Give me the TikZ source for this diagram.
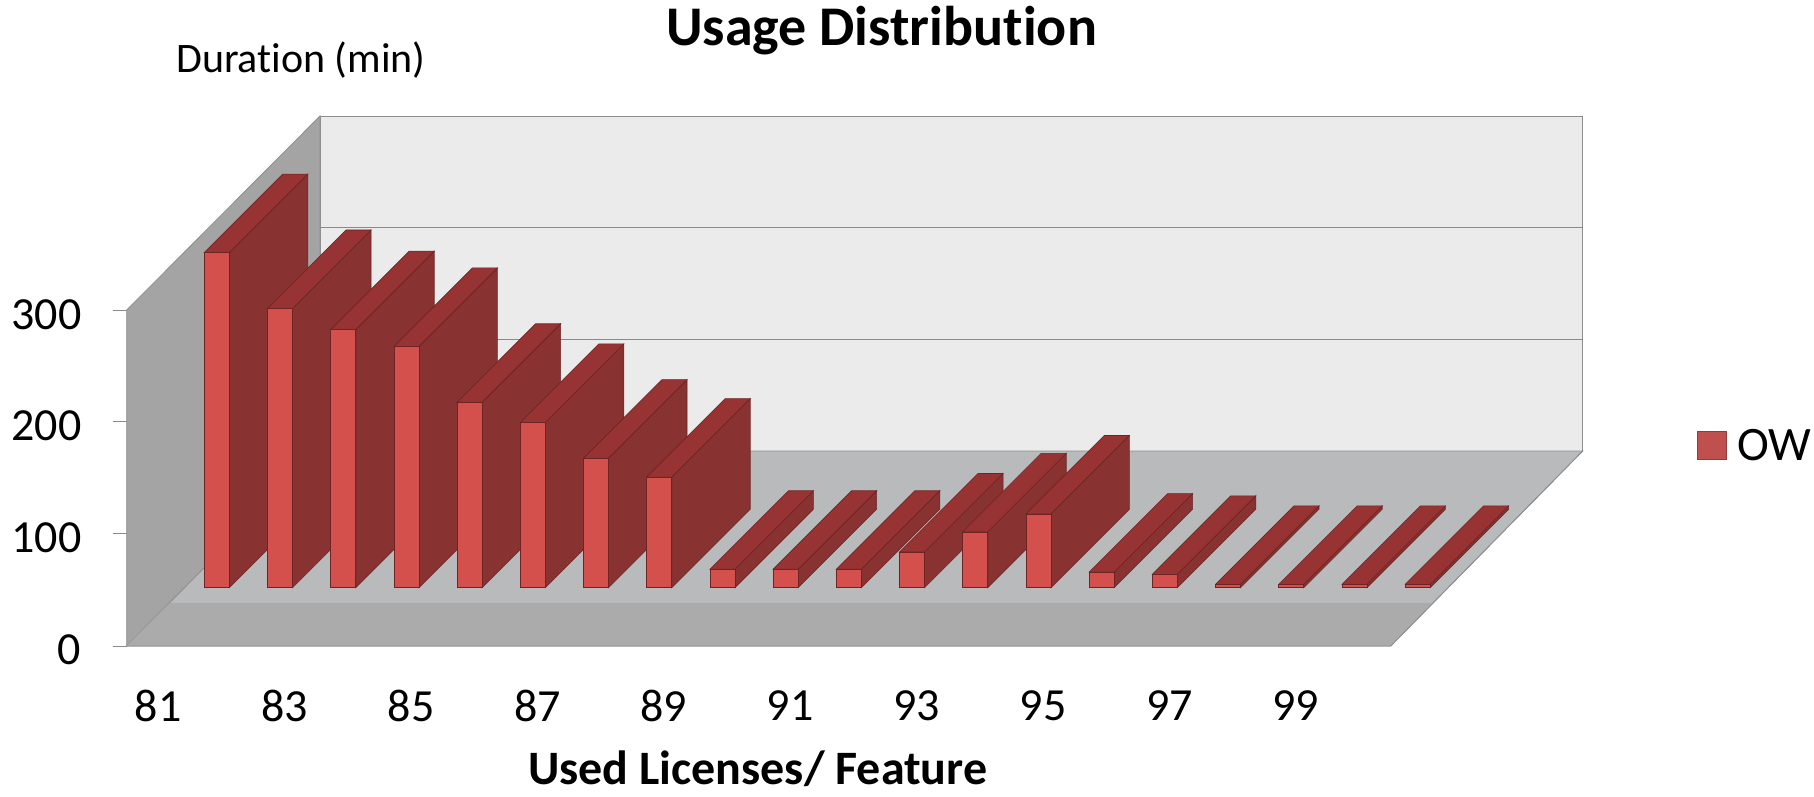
\documentclass[tikz,border=0pt]{standalone}
\usepackage{fontspec}
\setmainfont{Carlito}[Ligatures=NoCommon]
\usepackage{tikz}
\usetikzlibrary{shapes,arrows}

\definecolor{backwall}{HTML}{EBEBEB}
\definecolor{sidewall}{HTML}{A4A4A4}
\definecolor{floorgray}{HTML}{B8BABC}
\definecolor{floorband}{HTML}{ABABAB}
\definecolor{wallline}{HTML}{8E8E8E}
\definecolor{gridline}{HTML}{8A8A8A}
\definecolor{barfront}{HTML}{D4504C}
\definecolor{barside}{HTML}{883232}
\definecolor{bartop}{HTML}{973333}
\definecolor{barline}{HTML}{6E2424}
\definecolor{legendred}{HTML}{C0504D}

\tikzset{
  barface/.style={draw=barline, line width=0.3pt},
  ticklabel/.style={inner sep=0pt, font=\fontsize{23}{28}\selectfont},
}

\begin{document}
\begin{tikzpicture}[x=0.5pt,y=0.5pt,yscale=-1,xscale=1]
\useasboundingbox (0,0) rectangle (1814,797);

%Shape: Back Wall
\draw [draw=wallline, fill=backwall] (320,116) rectangle (1582.7,451);
%Straight Lines: gridlines
\draw [color=gridline] (320,227.3) -- (1582.7,227.3);
\draw [color=gridline] (320,339) -- (1582.7,339);
%Shape: Left Wall
\draw [draw=wallline, fill=sidewall] (126.7,310) -- (320,116) -- (320,451) -- (126.7,646) -- cycle;
%Shape: Floor
\draw [draw=wallline, fill=floorgray] (126.7,646) -- (1390.7,646) -- (1582.7,451) -- (320,451) -- cycle;
\fill [floorband] (126.7,646) -- (1390.7,646) -- (1433.7,603) -- (169.7,603) -- cycle;
\draw [color=wallline] (126.7,646) -- (1390.7,646) -- (1582.7,451);
%Straight Lines: axis ticks
\foreach \ty in {310.7,421.7,533,646}
  \draw [color=gridline] (112.7,\ty) -- (126.7,\ty);

%Bars
\foreach \h [count=\i from 0] in {300,250,231,216,166,148,116,99,16.5,16.5,16.5,32,50,66,14,12,3,3,3,3} {
  \pgfmathsetmacro{\xl}{204.3+63.2*\i}
  \pgfmathsetmacro{\xr}{\xl+25}
  \pgfmathsetmacro{\yt}{587.7-1.117*\h}
  \draw [barface, fill=barside] (\xr,587.7) -- (\xr+78.5,509.2) -- (\xr+78.5,\yt-78.5) -- (\xr,\yt) -- cycle;
  \draw [barface, fill=bartop] (\xl,\yt) -- (\xr,\yt) -- (\xr+78.5,\yt-78.5) -- (\xl+78.5,\yt-78.5) -- cycle;
  \draw [barface, fill=barfront] (\xl,587.7) rectangle (\xr,\yt);
}

% Text Node
\draw (881.6,31) node [inner sep=0pt, font=\bfseries\fontsize{28}{34}\selectfont] (title) {Usage Distribution};
% Text Node
\draw (301,60) node [inner sep=0pt, font=\fontsize{21}{25}\selectfont] (ytitle) {Duration (min)};
% Text Node
\draw (757.8,769) node [inner sep=0pt, font=\bfseries\fontsize{24}{29}\selectfont] (xtitle) {Used Licenses/ Feature};
% Text Node
\draw (81.7,314.5) node [anchor=east, ticklabel] (y300) {300};
\draw (81.7,426) node [anchor=east, ticklabel] (y200) {200};
\draw (81.7,537.5) node [anchor=east, ticklabel] (y100) {100};
\draw (81.7,650) node [anchor=east, ticklabel] (y0) {0};
% Text Node
\foreach \lab [count=\k from 0] in {81,83,85,87,89,91,93,95,97,99}
  \draw (158.3+126.4*\k,706) node [ticklabel] (x\lab) {\lab};

%Legend
\draw [draw=legendred!75!black, fill=legendred] (1697.7,431) rectangle (1726,459.3);
\draw (1737,445) node [anchor=west, ticklabel, font=\fontsize{24}{29}\selectfont] (legow) {OW};

\end{tikzpicture}
\end{document}
